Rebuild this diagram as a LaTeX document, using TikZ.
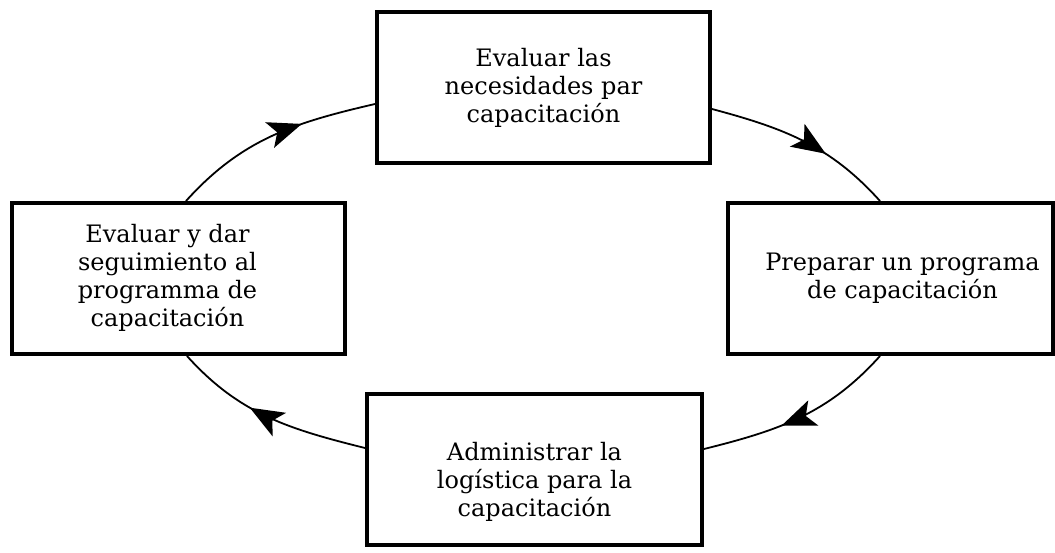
\documentclass[tikz,border=0pt]{standalone}
\usepackage{fontspec}
\setmainfont{DejaVu Serif}
\usetikzlibrary{arrows.meta,decorations.markings}
\tikzset{
  stepbox/.style={draw, line width=4pt, minimum height=151pt, inner sep=0pt,
    align=center, font=\fontsize{24}{28}\selectfont},
  flow/.style={line width=1.8pt, postaction={decorate},
    decoration={markings, mark=at position #1 with
      {\arrow{Stealth[length=34pt,width=27pt,inset=8pt]}}}}
}
\begin{document}
\begin{tikzpicture}[x=1pt,y=-1pt]
\useasboundingbox (0,0) rectangle (1055,552);
\node[stepbox, minimum width=333pt] (top) at (543.5,87.5)
  {Evaluar las\\necesidades par\\capacitación};
\node[stepbox, minimum width=325pt] (right) at (890.5,278.5)
  {\hspace*{24pt}\begin{tabular}{@{}c@{}}Preparar un programa\\de capacitación\end{tabular}};
\node[stepbox, minimum width=335pt] (bottom) at (534.5,469.5)
  {\begin{tabular}{@{}c@{}}\rule{0pt}{46pt}Administrar la\\logística para la\\capacitación\end{tabular}};
\node[stepbox, minimum width=333pt] (left) at (178.5,278.5)
  {\begin{tabular}{@{}c@{}}Evaluar y dar\\seguimiento al\\programma de\\capacitación\end{tabular}\hspace*{22pt}};
\draw[flow=0.63] ([yshift=-21.5pt]top.east) to[out=-15,in=132] ([xshift=-10.5pt]right.north);
\draw[flow=0.6] ([xshift=-10.5pt]right.south) to[out=-132,in=14] ([yshift=20.5pt]bottom.east);
\draw[flow=0.6] ([yshift=21.5pt]bottom.west) to[out=166,in=-48] ([xshift=8.5pt]left.south);
\draw[flow=0.65] ([xshift=7.5pt]left.north) to[out=48,in=193] ([yshift=-16.5pt]top.west);
\end{tikzpicture}
\end{document}
